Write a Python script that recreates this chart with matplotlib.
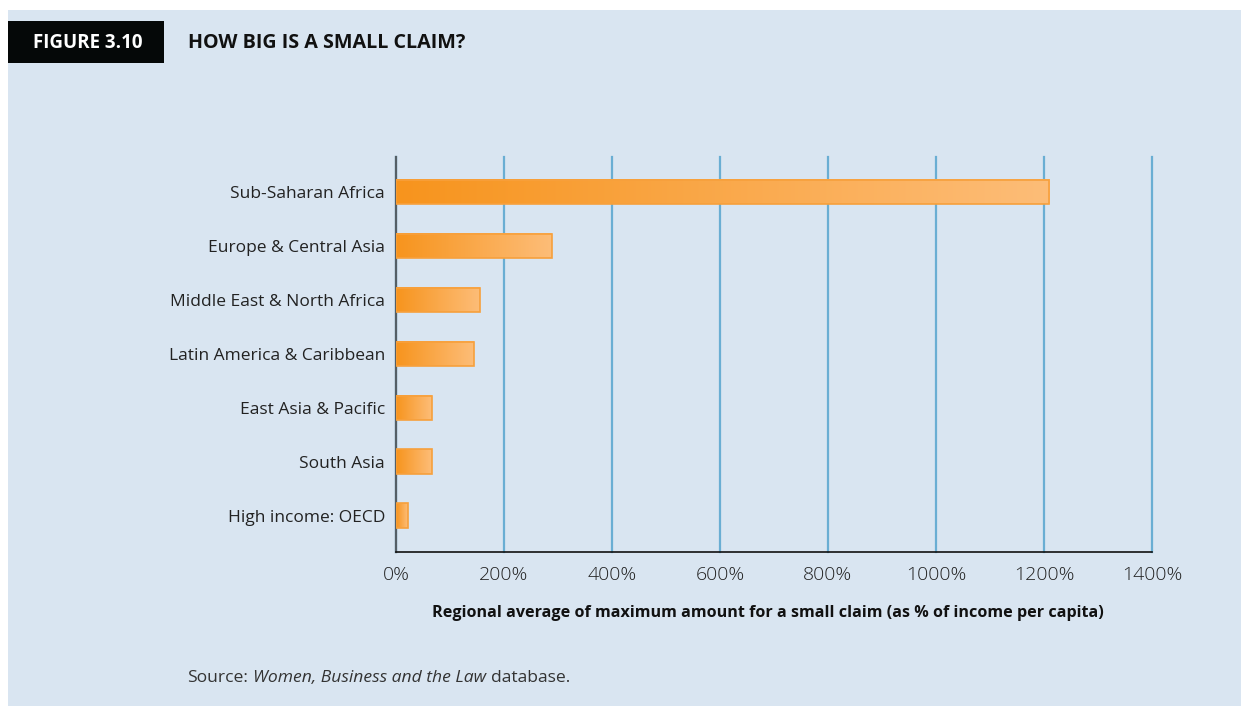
import numpy as np
import matplotlib
matplotlib.use('Agg')
import matplotlib.pyplot as plt
from matplotlib.colors import LinearSegmentedColormap
from matplotlib.patches import Rectangle
from matplotlib.ticker import FuncFormatter

# data
regions = ['Sub-Saharan Africa', 'Europe & Central Asia', 'Middle East & North Africa',
           'Latin America & Caribbean', 'East Asia & Pacific', 'South Asia', 'High income: OECD']
values = [1210, 288, 155, 144, 66, 66, 22]
ticks = [0, 200, 400, 600, 800, 1000, 1200, 1400]

plt.rcParams['font.family'] = ['Open Sans', 'DejaVu Sans']

bg = '#d9e5f1'
fig = plt.figure(figsize=(12.41, 7.06), dpi=100)
fig.patch.set_facecolor('white')
# light blue panel
fig.patches.append(Rectangle((8 / 1241, 0), 1 - 8 / 1241, 1 - 10 / 706,
                             transform=fig.transFigure, facecolor=bg, edgecolor='none', zorder=-2))
# header
fig.patches.append(Rectangle((8 / 1241, 1 - 63 / 706), 156 / 1241, 42 / 706,
                             transform=fig.transFigure, facecolor='#050808', edgecolor='none', zorder=-1))
fig.text(88 / 1241, 1 - 43 / 706, 'FIGURE 3.10', color='white', fontsize=13.5, fontweight='bold',
         ha='center', va='center')
fig.text(188 / 1241, 1 - 43 / 706, 'HOW BIG IS A SMALL CLAIM?', color='#111111', fontsize=14.2,
         fontweight='bold', ha='left', va='center')

ax = fig.add_axes([396 / 1241, 1 - 552 / 706, 756 / 1241, 395 / 706])
ax.set_facecolor('none')
ax.set_zorder(2)

cmap = LinearSegmentedColormap.from_list('orng', ['#f7941d', '#fdbd78'])
grad = np.linspace(0, 1, 256).reshape(1, -1)
h = 0.46
y = np.arange(len(regions))
for i, v in enumerate(values):
    ax.imshow(grad, cmap=cmap, aspect='auto', extent=(0, v, y[i] + h / 2, y[i] - h / 2), zorder=3)
bars = ax.barh(y, values, height=h, facecolor='none', edgecolor='#f7a03c', linewidth=1.2, zorder=4)

ax.set_xlim(0, 1400)
ax.set_ylim(len(regions) - 1 + 0.67, -0.65)
ax.set_xticks(ticks)
ax.xaxis.set_major_formatter(FuncFormatter(lambda x, p: f'{int(x)}%'))
ax.set_yticks(y)
ax.set_yticklabels(regions)
ax.tick_params(axis='both', length=0, colors='#222222')
ax.tick_params(axis='x', pad=10, labelsize=14)
ax.tick_params(axis='y', pad=8, labelsize=12.5)
for t in ax.get_xticklabels():
    t.set_fontweight('light')
ax.grid(axis='x', color='#6aaed3', linewidth=1.6, zorder=1, clip_on=False)
ax.set_axisbelow(True)
for s in ['top', 'right']:
    ax.spines[s].set_visible(False)
ax.spines['left'].set_color('#555f66')
ax.spines['left'].set_linewidth(1.6)
ax.spines['bottom'].set_color('#111111')
ax.spines['bottom'].set_linewidth(1.2)

ax.set_xlabel('Regional average of maximum amount for a small claim (as % of income per capita)',
              fontsize=11.6, fontweight='bold', color='#111111', labelpad=16)
ax.xaxis.set_label_coords(0.492, -0.135)

# source line, pieces chained one after the other
renderer = fig.canvas.get_renderer()
xpos = 187 / 1241
for txt, st in [('Source:', 'normal'), ('Women, Business and the Law', 'italic'), ('database.', 'normal')]:
    t = fig.text(xpos, 1 - 678 / 706, txt, fontsize=12.6, style=st, color='#333333', va='center')
    bb = t.get_window_extent(renderer)
    xpos = (bb.x1 + 5) / fig.bbox.width

fig.savefig('out.png', dpi=100, facecolor=fig.get_facecolor())
